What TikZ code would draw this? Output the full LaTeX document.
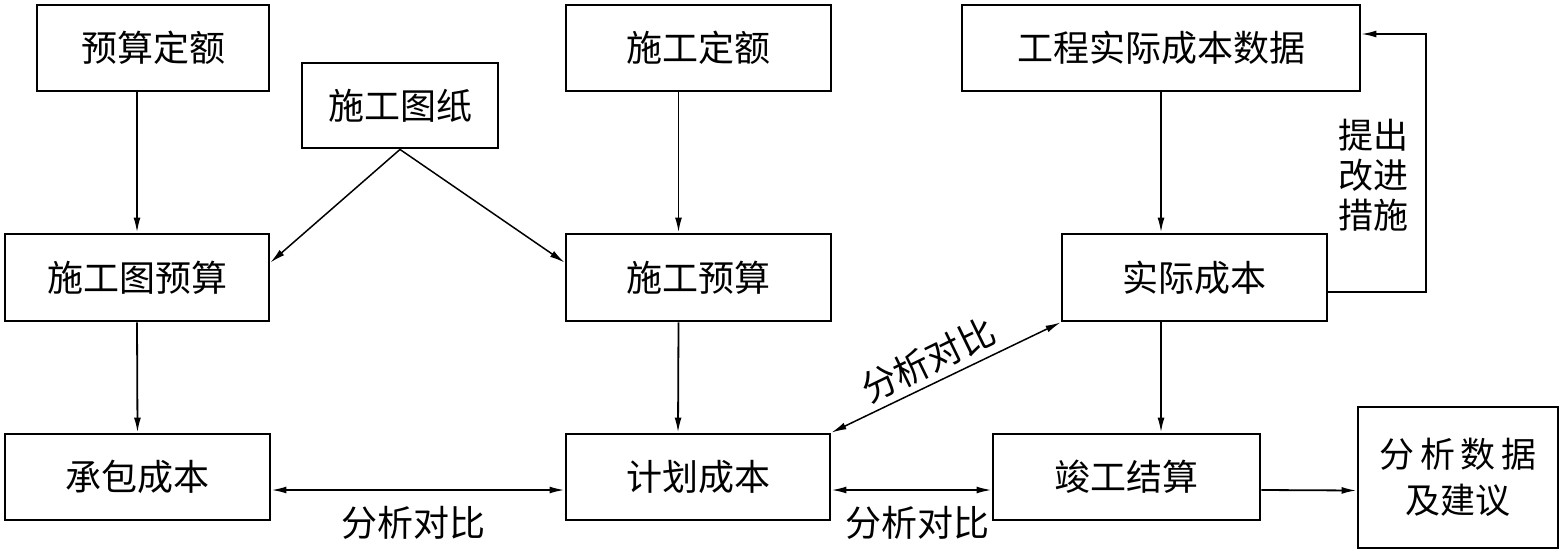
\documentclass[tikz,border=0pt]{standalone}
\usepackage{fontspec}
\setmainfont{Noto Sans CJK SC}
\usetikzlibrary{arrows.meta}
\begin{document}
\begin{tikzpicture}[x=1pt,y=-1pt,
  box/.style={draw,line width=2.9pt,inner sep=0pt,font=\fontsize{36}{42}\selectfont},
  arr/.style={line width=1.8pt,-{Latex[length=15pt,width=7pt]}},
  darr/.style={line width=1.8pt,{Latex[length=15pt,width=7pt]}-{Latex[length=15pt,width=7pt]}},
  lbl/.style={inner sep=0pt,font=\fontsize{36}{42}\selectfont}]
\useasboundingbox (0,0) rectangle (1562,554);
\node[box,minimum width=232pt,minimum height=86pt] (yd) at (153,48) {预算定额};
\node[box,minimum width=196pt,minimum height=85pt] (tz) at (400,105.5) {施工图纸};
\node[box,minimum width=265pt,minimum height=86pt] (sd) at (698.5,48) {施工定额};
\node[box,minimum width=398pt,minimum height=86pt] (gc) at (1161,48) {工程实际成本数据};
\node[box,minimum width=264pt,minimum height=87pt] (ty) at (137,277.5) {施工图预算};
\node[box,minimum width=265pt,minimum height=87pt] (sy) at (698.5,277.5) {施工预算};
\node[box,minimum width=265pt,minimum height=87pt] (sj) at (1194.5,277.5) {实际成本};
\node[box,minimum width=265pt,minimum height=86pt] (cb) at (137.5,477) {承包成本};
\node[box,minimum width=264pt,minimum height=86pt] (jh) at (698,477) {计划成本};
\node[box,minimum width=267pt,minimum height=86pt] (jg) at (1126.5,477) {竣工结算};
\node[box,minimum width=200pt,minimum height=141pt,align=center,font=\fontsize{35}{46}\selectfont] (fx) at (1458,477.5) {分\,析\,数\,据\\及建议};
% vertical arrows
\draw[arr] (ty.north |- yd.south) -- (ty.north);
\draw[arr] ([xshift=-20pt]sd.south) -- ([xshift=-20pt]sy.north);
\draw[arr] (gc.south) -- (gc.south |- sj.north);
\draw[arr] (ty.south) -- (cb.north);
\draw[arr] ([xshift=-20pt]sy.south) -- ([xshift=-20pt]jh.north);
\draw[arr] (gc.south |- sj.south) -- (gc.south |- jg.north);
% from drawings
\draw[arr,line width=1.5pt] (tz.south) -- ([yshift=15pt]ty.east);
\draw[arr,line width=1.5pt] (tz.south) -- ([yshift=15pt]sy.west);
% feedback
\coordinate (fb1) at (1426,292);
\coordinate (fb2) at (1426,34);
\draw[arr,line width=1.5pt] ([yshift=-14.5pt]sj.east) -- (fb1) -- (fb2) -- (fb2 -| gc.east);
\node[lbl,align=center,font=\fontsize{35}{40}\selectfont] (tc) at (1373,175) {提出\\改进\\措施};
% comparisons
\draw[darr] ([yshift=-13pt]cb.east) -- ([yshift=-13pt]jh.west);
\draw[darr] ([yshift=-13pt]jh.east) -- ([yshift=-13pt]jg.west);
\draw[darr,line width=1.5pt] (jh.north east) -- (sj.south west);
\draw[arr] ([yshift=-13pt]jg.east) -- ([yshift=-13pt]fx.west);
\node[lbl] (l1) at (413,523) {分析对比};
\node[lbl] (l2) at (917,523) {分析对比};
\node[lbl,rotate=26] (l3) at (928,360) {分析对比};
\end{tikzpicture}
\end{document}
